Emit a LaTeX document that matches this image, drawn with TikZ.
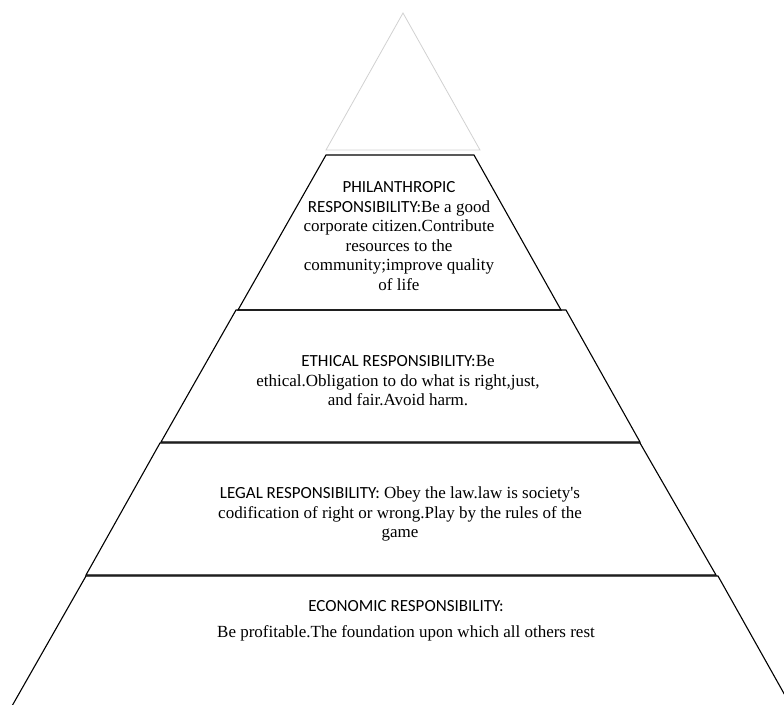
\documentclass[tikz,border=0pt]{standalone}
\usepackage{fontspec}
\setmainfont{Liberation Serif}
\newfontfamily\hd{Carlito}
\begin{document}
\begin{tikzpicture}[x=1pt,y=-1pt,
  tier/.style={draw=black,line width=1.1pt,line join=miter},
  apexline/.style={draw=black!18,line width=0.8pt},
  txt/.style={align=center,inner sep=0pt,font=\fontsize{17}{19.5}\selectfont}]
\useasboundingbox (0,0) rectangle (784,704);
\clip (0,0) rectangle (784,704);
% top triangle (faint)
\coordinate (ap) at (403,13);
\coordinate (tl) at (326,150);
\coordinate (tr) at (480,150);
\draw[apexline] (ap) -- (tl) -- (tr) -- cycle;
% tiers
\draw[tier] (326,155) -- (474,155) -- (561,310) -- (238,310) -- cycle;
\draw[tier] (236,310) -- (566,310) -- (640,442) -- (161,442) -- cycle;
\draw[tier] (160,443) -- (640,443) -- (716,575) -- (86,575) -- cycle;
\draw[tier] (12,706) -- (86,576) -- (718,576) -- (791,706);
% texts
\node[txt] (phil) at (399,236) {{\hd PHILANTHROPIC}\\{\hd RESPONSIBILITY:}Be a good\\corporate citizen.Contribute\\resources to the\\community;improve quality\\of life};
\node[txt] (eth) at (398,381) {{\hd ETHICAL RESPONSIBILITY:}Be\\ethical.Obligation to do what is right,just,\\and fair.Avoid harm.};
\node[txt] (leg) at (400,514) {{\hd LEGAL RESPONSIBILITY:} Obey the law.law is society\textquotesingle s\\codification of right or wrong.Play by the rules of the\\game};
\node[txt] (eco) at (406,621) {{\hd ECONOMIC RESPONSIBILITY:}\\[6.5pt]Be profitable.The foundation upon which all others rest};
\end{tikzpicture}
\end{document}
